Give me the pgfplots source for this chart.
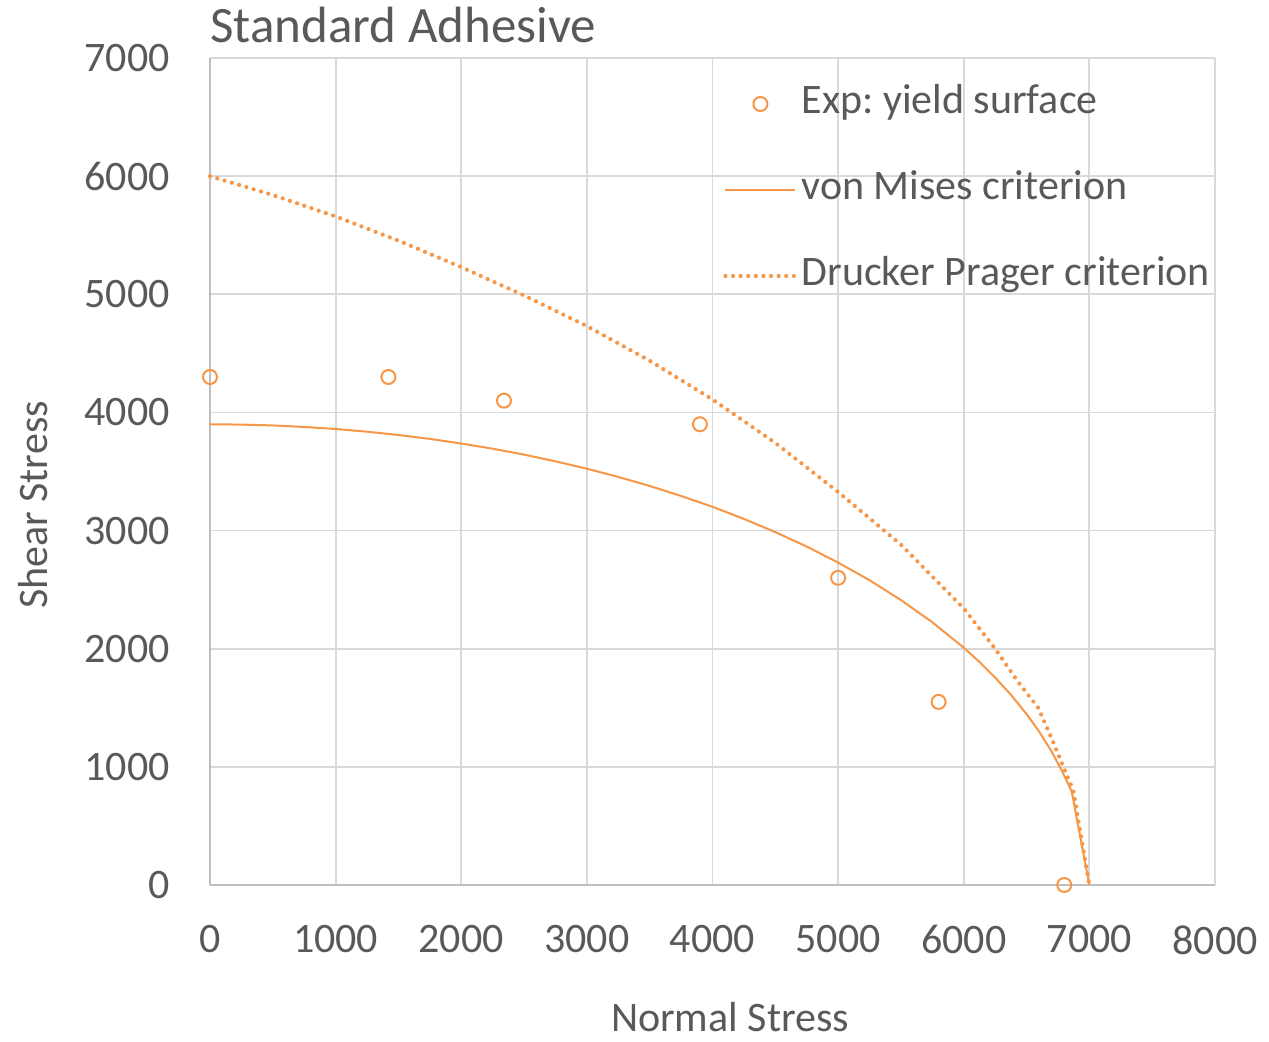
\documentclass[border=0pt]{standalone}
\usepackage{fontspec}
\setmainfont{Carlito}
\usepackage{pgfplots}
\pgfplotsset{compat=1.18}
\definecolor{txt}{HTML}{595959}
\definecolor{grd}{HTML}{D9D9D9}
\definecolor{axl}{HTML}{BFBFBF}
\definecolor{org}{HTML}{F79646}
\frenchspacing
\begin{document}
\begin{tikzpicture}
\begin{axis}[
 at={(0,0)}, anchor=south west,
 scale only axis, width=502.5pt, height=413.5pt,
 xmin=0, xmax=8000, ymin=0, ymax=7000,
 xtick={0,1000,...,8000}, ytick={0,1000,...,7000},
 grid=major, major grid style={draw=grd, line width=0.9pt},
 axis lines=left, axis line style={draw=axl, line width=0.9pt, -},
 major tick length=0pt,
 ticklabel style={text=txt, font=\fontsize{21}{25}\selectfont},
 /pgf/number format/assume math mode=true,
 /pgf/number format/1000 sep={},
 yticklabel style={anchor=east, inner sep=0pt, xshift=-20pt},
 xticklabel style={anchor=north, inner sep=0pt, yshift=-20pt},
 xlabel={Normal Stress}, ylabel={Shear Stress},
 label style={text=txt, font=\fontsize{21}{25}\selectfont, inner sep=0pt},
 xlabel style={at={(axis description cs:0.5174,-0.1596)}, anchor=center},
 ylabel style={at={(axis description cs:-0.1761,0.4595)}, anchor=center},
 title={Standard Adhesive},
 every axis title shift=0pt,
 title style={at={(axis description cs:0,1)}, anchor=base west, inner sep=0pt, yshift=8pt, text=txt, font=\fontsize{25.5}{30}\selectfont},
 clip=false,
 legend cell align=left,
 legend image code/.code={\draw[mark repeat=2,mark phase=2,#1] plot coordinates {(0pt,0pt) (17.5pt,0pt) (35pt,0pt)};},
 legend style={at={(axis description cs:0.5104,0.8404)}, anchor=west, draw=none, fill=none, inner sep=0pt, row sep=24pt, column sep=2pt,
   nodes={inner sep=0pt, text=txt, font=\fontsize{21}{25}\selectfont, text height=14pt, text depth=5pt, anchor=west}},
]
\addplot[only marks, mark=o, mark size=3.5pt, mark options={draw=org, line width=1pt}] coordinates {
 (0,4300) (1420,4300) (2340,4100) (3900,3900) (5000,2600) (5800,1550) (6800,0)
};
\addlegendentry{Exp: yield surface}
\addplot[org, line width=1pt, no marks] coordinates {
 (0,3900) (250,3897) (500,3890) (750,3877) (1000,3860) (1250,3837) (1500,3809) (1750,3776)
 (2000,3737) (2250,3693) (2500,3643) (2750,3586) (3000,3524) (3250,3454) (3500,3378) (3750,3293)
 (4000,3201) (4250,3099) (4500,2987) (4750,2865) (5000,2729) (5250,2580) (5500,2412) (5750,2224)
 (6000,2009) (6125,1888) (6250,1756) (6375,1611) (6500,1447) (6600,1299) (6700,1130) (6780,970)
 (6860,790) (7000,0)
};
\addlegendentry{von Mises criterion}
\addplot[org, line width=2.1pt, line cap=round, dash pattern=on 0pt off 3.8pt, no marks] coordinates {
 (0,6000) (500,5840) (1000,5659) (1500,5454) (2000,5230) (2500,4990) (3000,4731) (3500,4438)
 (4000,4110) (4500,3742) (5000,3327) (5500,2881) (6000,2341) (6250,2000) (6434,1717) (6593,1500)
 (6694,1254) (6793,1000) (6872,800) (7000,0)
};
\addlegendentry{Drucker Prager criterion}
\end{axis}
\pgfresetboundingbox
\path (-105pt,-78pt) rectangle (529.5pt,442.5pt);
\end{tikzpicture}
\end{document}
